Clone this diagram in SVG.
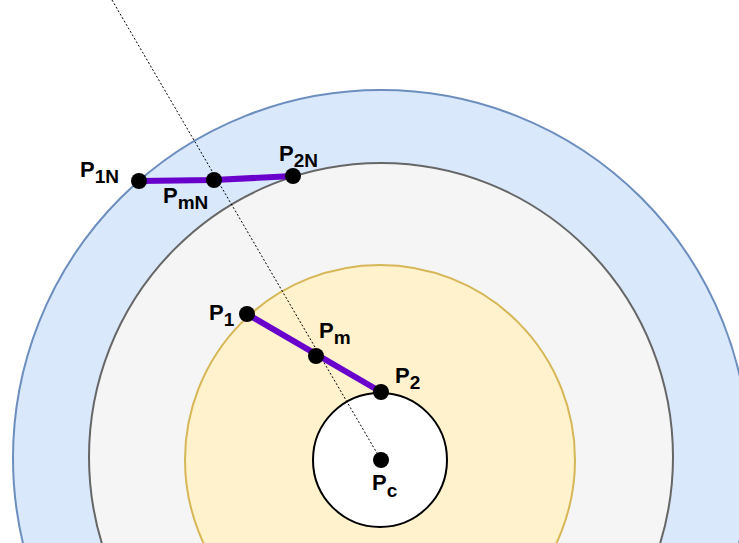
<svg xmlns="http://www.w3.org/2000/svg" width="739" height="543" viewBox="0 0 739 543">
<style>
.lbl{font-family:"Liberation Sans",Arial,sans-serif;font-weight:bold;font-size:22px;fill:#000}
.sub{font-size:19px}
.dot{fill:#000}
.seg{stroke:#6a00cc;stroke-width:6;fill:none}
</style>
<rect width="739" height="543" fill="#ffffff"/>
<g id="outer-layer"><ellipse cx="381" cy="458" rx="368" ry="368" fill="#dae8fc" stroke="#6c8ebf" stroke-width="2"/></g>
<g id="middle-layer"><ellipse cx="381" cy="457" rx="292" ry="294" fill="#f5f5f5" stroke="#666666" stroke-width="2"/></g>
<g id="inner-layer"><ellipse cx="380" cy="460" rx="195" ry="195" fill="#fff2cc" stroke="#d6b656" stroke-width="2"/></g>
<g id="core"><circle cx="380" cy="460" r="67" fill="#ffffff" stroke="#000000" stroke-width="2"/></g>
<g id="connectors">
<line x1="112" y1="0" x2="381" y2="460" stroke="#000" stroke-width="1" stroke-dasharray="2,2"/>
<polyline class="seg" points="139,181 214,180 293,176"/>
<line class="seg" x1="247" y1="314" x2="381" y2="392"/>
</g>
<g id="P1N"><circle class="dot" cx="139" cy="181" r="8"/><text class="lbl" x="80" y="177">P<tspan class="sub" dy="6">1N</tspan></text></g>
<g id="PmN"><circle class="dot" cx="214" cy="180" r="8"/><text class="lbl" x="163" y="203">P<tspan class="sub" dy="6">mN</tspan></text></g>
<g id="P2N"><circle class="dot" cx="293" cy="176" r="8"/><text class="lbl" x="279" y="161">P<tspan class="sub" dy="6">2N</tspan></text></g>
<g id="P1"><circle class="dot" cx="247" cy="314" r="8"/><text class="lbl" x="209" y="320">P<tspan class="sub" dy="6">1</tspan></text></g>
<g id="Pm"><circle class="dot" cx="316" cy="356" r="8"/><text class="lbl" x="319" y="338">P<tspan class="sub" dy="6">m</tspan></text></g>
<g id="P2"><circle class="dot" cx="381" cy="392" r="8"/><text class="lbl" x="395" y="383">P<tspan class="sub" dy="6">2</tspan></text></g>
<g id="Pc"><circle class="dot" cx="381" cy="460" r="8"/><text class="lbl" x="372" y="490">P<tspan class="sub" dy="7">c</tspan></text></g>
</svg>
